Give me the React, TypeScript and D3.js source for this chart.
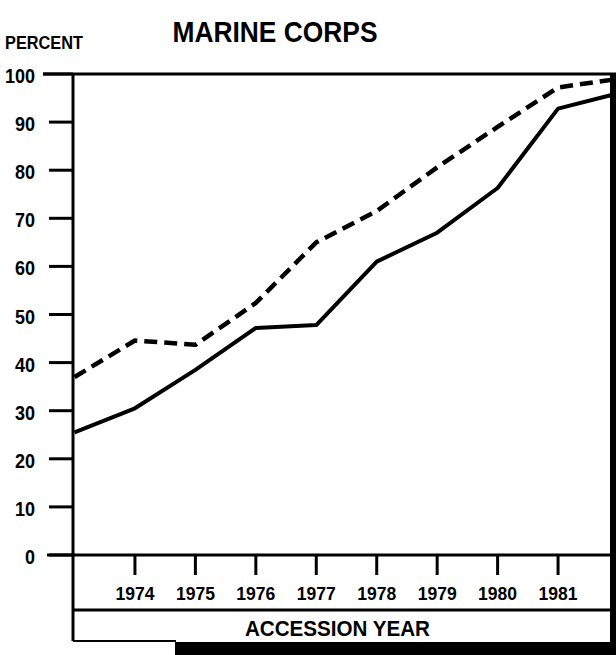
import React from 'react';
import * as d3 from 'd3';

const years = [1973, 1974, 1975, 1976, 1977, 1978, 1979, 1980, 1981, 1982];
const solidSeries = [25.5, 30.5, 38.5, 47.2, 47.8, 61, 67, 76.3, 92.8, 96];
const dashedSeries = [37, 44.6, 43.7, 52.4, 65, 71.5, 80.6, 89, 97.2, 99];
const yTicks = [0, 10, 20, 30, 40, 50, 60, 70, 80, 90, 100];
const xTicks = [1974, 1975, 1976, 1977, 1978, 1979, 1980, 1981];

const title = 'MARINE CORPS';
const yTitle = 'PERCENT';
const xTitle = 'ACCESSION YEAR';

const W = 616;
const H = 655;
const left = 73;
const right = 612;
const top = 74;
const bottom = 555;
const boxTop = 610;
const boxBottom = 641;

const font = 'Liberation Sans, Arial, sans-serif';

export default function App() {
  const x = d3.scaleLinear().domain([1973, 1982]).range([74.5, 618.5]);
  const y = d3.scaleLinear().domain([0, 100]).range([bottom, top]);

  const line = d3
    .line<number>()
    .x((_, i) => x(years[i]))
    .y((d) => y(d));

  return (
    <svg
      width={W}
      height={H}
      viewBox={`0 0 ${W} ${H}`}
      style={{ position: 'absolute', left: 0, top: 0, background: '#fff' }}
    >
      <defs>
        <clipPath id="plot">
          <rect x={left} y={top - 10} width={right - left} height={bottom - top + 10} />
        </clipPath>
      </defs>
      <rect x={0} y={0} width={W} height={H} fill="#fff" />

      {/* titles */}
      <text
        x={275}
        y={42}
        textAnchor="middle"
        fontFamily={font}
        fontWeight="bold"
        fontSize={30}
        textLength={205}
        lengthAdjust="spacingAndGlyphs"
      >
        {title}
      </text>
      <text
        x={5}
        y={49}
        fontFamily={font}
        fontWeight="bold"
        fontSize={18.5}
        textLength={78}
        lengthAdjust="spacingAndGlyphs"
      >
        {yTitle}
      </text>

      {/* data lines */}
      <g clipPath="url(#plot)" fill="none" stroke="#000" strokeLinejoin="round">
        <path d={line(solidSeries) ?? ''} strokeWidth={4} />
        <path d={line(dashedSeries) ?? ''} strokeWidth={4.5} strokeDasharray="13,7" />
      </g>

      {/* y axis ticks and labels */}
      {yTicks.map((t) => (
        <g key={t}>
          <line
            x1={t === 100 ? 43 : 49}
            x2={left}
            y1={y(t)}
            y2={y(t)}
            stroke="#000"
            strokeWidth={3}
          />
          <text
            x={35}
            y={y(t) + 9}
            textAnchor="end"
            fontFamily={font}
            fontWeight="bold"
            fontSize={21}
            textLength={String(t).length * 10}
            lengthAdjust="spacingAndGlyphs"
          >
            {t}
          </text>
        </g>
      ))}

      {/* frame */}
      <line x1={43} x2={W} y1={top} y2={top} stroke="#000" strokeWidth={3} />
      <line x1={left} x2={left} y1={top} y2={boxBottom} stroke="#000" strokeWidth={3} />
      <line x1={47} x2={right} y1={bottom} y2={bottom} stroke="#000" strokeWidth={3} />
      <rect x={right - 2} y={top - 1} width={W - right + 2} height={H - top + 1} fill="#000" />
      <line x1={left} x2={right} y1={boxTop} y2={boxTop} stroke="#000" strokeWidth={3} />
      <line x1={left} x2={176} y1={boxBottom} y2={boxBottom} stroke="#000" strokeWidth={2} />
      <rect x={175} y={boxBottom + 1} width={W - 175} height={H - boxBottom - 1} fill="#000" />

      {/* x ticks */}
      {xTicks.map((t) => (
        <g key={t}>
          <line x1={x(t)} x2={x(t)} y1={bottom} y2={575} stroke="#000" strokeWidth={3} />
          <text
            x={x(t)}
            y={600}
            textAnchor="middle"
            fontFamily={font}
            fontWeight="bold"
            fontSize={18.5}
            textLength={39}
            lengthAdjust="spacingAndGlyphs"
          >
            {t}
          </text>
        </g>
      ))}

      <text
        x={337.5}
        y={636}
        textAnchor="middle"
        fontFamily={font}
        fontWeight="bold"
        fontSize={22}
        textLength={185}
        lengthAdjust="spacingAndGlyphs"
      >
        {xTitle}
      </text>
    </svg>
  );
}
